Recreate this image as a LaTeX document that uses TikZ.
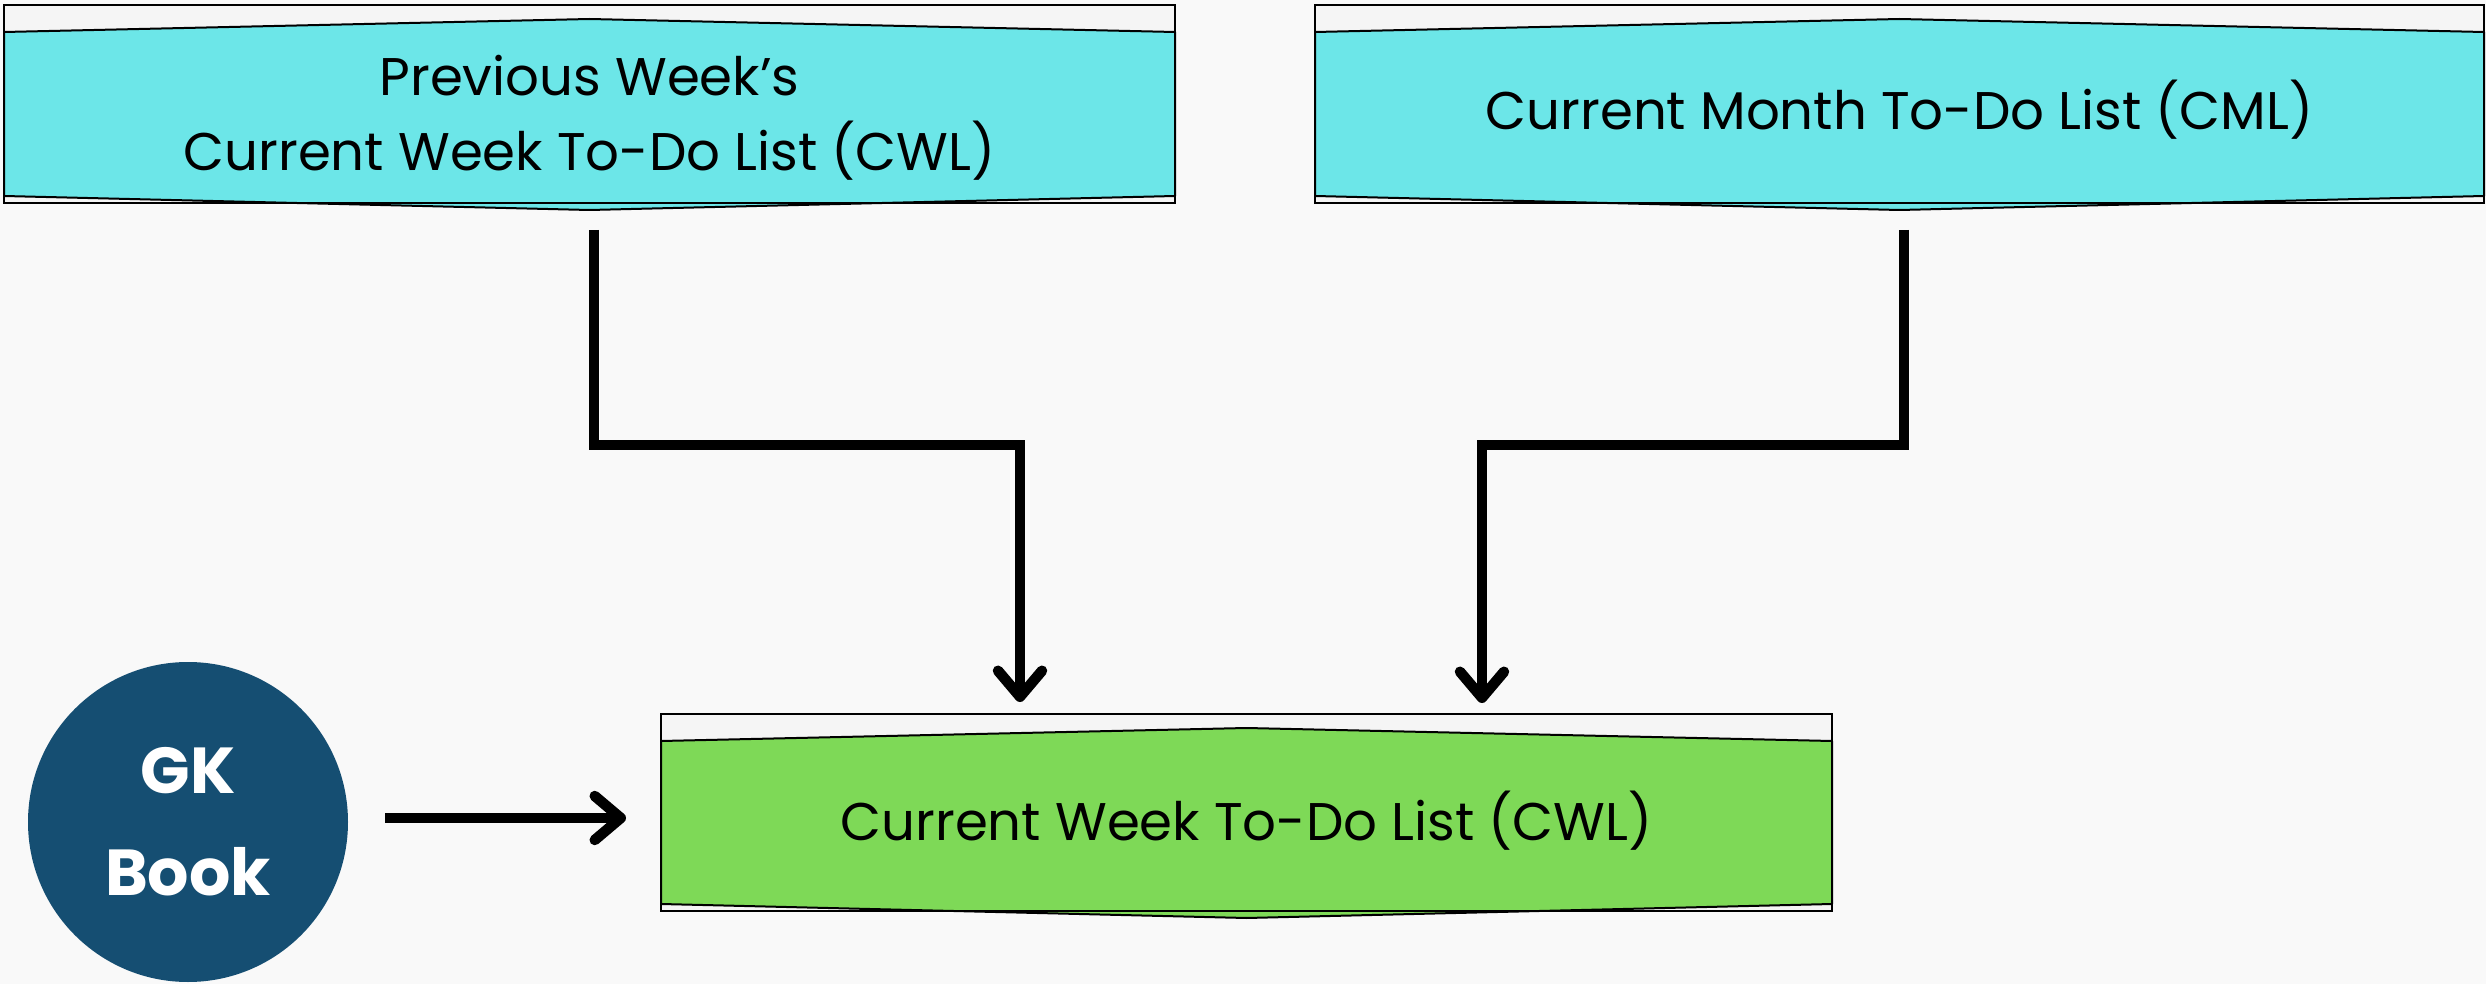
\documentclass[tikz,border=0pt]{standalone}
\usepackage{fontspec}
\setmainfont{Poppins}
\usetikzlibrary{arrows.meta,calc}
\definecolor{bgc}{RGB}{249,249,249}
\definecolor{bandc}{RGB}{245,245,245}
\definecolor{cyanfill}{RGB}{108,230,232}
\definecolor{greenfill}{RGB}{126,217,87}
\definecolor{navyc}{RGB}{21,78,114}
\newcommand{\ribbonfill}[2]{%
  \filldraw[fill=#2, draw=black, line width=1pt, line join=round]
    ($(#1.north west)+(0,27)$) -- ($(#1.north)+(0,14)$) -- ($(#1.north east)+(0,27)$)
    -- ($(#1.south east)+(0,-7)$) -- ($(#1.south)+(0,7)$) -- ($(#1.south west)+(0,-7)$) -- cycle;
  \draw[line width=1pt] (#1.north west) rectangle (#1.south east);}
\tikzset{
  listbox/.style={draw=black, fill=bandc, line width=1pt, minimum width=585.5pt,
    minimum height=99pt, inner sep=0pt, outer sep=0pt},
  boxtext/.style={font=\fontsize{26.5pt}{37.5pt}\selectfont, align=center, inner sep=0pt, text=black},
  conn/.style={line width=5.25pt, draw=black, -{Straight Barb[length=13pt,width=22pt,round]}}
}
\begin{document}
\begin{tikzpicture}[x=0.5pt, y=-0.5pt]
\fill[bgc] (0,0) rectangle (2486,984);
\useasboundingbox (0,0) rectangle (2486,984);

\node[listbox] (prev) at (589.5,104) {};
\node[listbox, minimum width=584.5pt] (cml) at (1899.5,104) {};
\node[listbox, minimum height=98.5pt] (cwl) at (1246.5,812.5) {};

\ribbonfill{prev}{cyanfill}
\ribbonfill{cml}{cyanfill}
\ribbonfill{cwl}{greenfill}

\node[boxtext] (prevt) at ($(prev.center)+(0,14)$) {Previous Week’s\\Current Week To-Do List (CWL)};
\node[boxtext] (cmlt) at ($(cml.center)+(0,6)$) {Current Month To-Do List (CML)};
\node[boxtext] (cwlt) at ($(cwl.center)+(0,8)$) {Current Week To-Do List (CWL)};

\node[circle, fill=navyc, minimum size=160pt, inner sep=0pt, outer sep=0pt, text=white,
  font=\fontsize{32.5pt}{51pt}\selectfont\bfseries, align=center] (gk) at (188,822) {GK\\Book};

\coordinate (b1) at (594,445);
\coordinate (b2) at (1020,445);
\coordinate (b3) at (1904,445);
\coordinate (b4) at (1482,445);

\draw[conn, shorten <=13.5pt, shorten >=6pt] (prev.south -| b1) -- (b1) -- (b2) -- (cwl.north -| b2);
\draw[conn, shorten <=13.5pt, shorten >=5.5pt] (cml.south -| b3) -- (b3) -- (b4) -- (cwl.north -| b4);
\draw[conn, shorten <=18.5pt, shorten >=17.5pt] ([yshift=2pt]gk.east) -- ([yshift=2pt]gk.east -| cwl.west);
\end{tikzpicture}
\end{document}
